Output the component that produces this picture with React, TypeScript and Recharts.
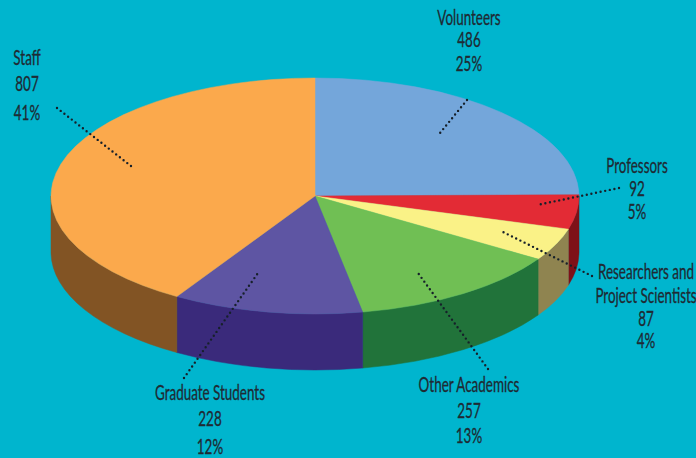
import { PieChart, Pie } from "recharts";

const categories = ["Volunteers", "Professors", "Researchers and\nProject Scientists", "Other Academics", "Graduate Students", "Staff"];
const counts = [486, 92, 87, 257, 228, 807];
const percents = ["25%", "5%", "4%", "13%", "12%", "41%"];
const topColors = ["#74A6DA", "#E32B35", "#FAF287", "#70BF54", "#5E55A3", "#FBA94C"];
const wallColors = ["#4A76A8", "#7E1118", "#8F8450", "#21733A", "#3A2A7B", "#825424"];

// callout placement: text centre x, baseline of each text line, leader line ends
const labelX = [469, 637, 646, 469, 210, 27];
const labelBaselines = [
  [25, 47, 71],
  [173, 196, 219],
  [279, 303, 326, 348],
  [392, 418, 443],
  [400, 426, 454],
  [65, 91, 120],
];
const leaders = [
  [467, 100, 440, 133],
  [619, 188, 537, 205],
  [592, 276, 501, 231],
  [488, 369, 418, 273],
  [184, 378, 258, 273],
  [57, 108, 131, 166],
];

const BG = "#00B5CE";
const INK = "#1F2A33";
const CX = 315;
const CY = 196;
const RX = 264;
const TILT = 118 / 264;
const DEPTH = 56;
const TEXT_SQUEEZE = 0.64; // no condensed font installed, so narrow the glyphs

const topData = categories.map((name, i) => ({ name, value: counts[i], fill: topColors[i] }));
const wallData = categories.map((name, i) => ({ name, value: counts[i], fill: wallColors[i] }));

function point(cx: number, cy: number, r: number, deg: number) {
  const a = (deg * Math.PI) / 180;
  return { x: cx + r * Math.cos(a), y: cy - r * TILT * Math.sin(a) };
}

function TopSlice(props: any) {
  const { cx, cy, outerRadius: r, startAngle, endAngle, fill } = props;
  const a = point(cx, cy, r, startAngle);
  const b = point(cx, cy, r, endAngle);
  const large = Math.abs(startAngle - endAngle) > 180 ? 1 : 0;
  const d = `M${cx},${cy} L${a.x},${a.y} A${r},${r * TILT} 0 ${large} 1 ${b.x},${b.y} Z`;
  return <path d={d} fill={fill} stroke={fill} strokeWidth={0.5} />;
}

// Only the front half of the rim is visible, so clamp to -180..0 degrees
function WallSlice(props: any) {
  const { cx, cy, outerRadius: r, startAngle, endAngle, fill } = props;
  const from = Math.min(startAngle, 0);
  const to = Math.max(endAngle, -180);
  if (from <= to) return <g />;
  const a = point(cx, cy, r, from);
  const b = point(cx, cy, r, to);
  const ry = r * TILT;
  const d =
    `M${a.x},${a.y} A${r},${ry} 0 0 1 ${b.x},${b.y} ` +
    `L${b.x},${b.y + DEPTH} A${r},${ry} 0 0 0 ${a.x},${a.y + DEPTH} Z`;
  return <path d={d} fill={fill} stroke={fill} strokeWidth={0.5} />;
}

function Callout(props: any) {
  const i: number = props.index;
  const lines = [...categories[i].split("\n"), String(counts[i]), percents[i]];
  const [x1, y1, x2, y2] = leaders[i];
  return (
    <g>
      <line
        x1={x1}
        y1={y1}
        x2={x2}
        y2={y2}
        stroke="#16202A"
        strokeWidth={2.4}
        strokeLinecap="round"
        strokeDasharray="0 4.7"
      />
      {lines.map((line, j) => (
        <text
          key={j}
          transform={`translate(${labelX[i]},${labelBaselines[i][j]}) scale(${TEXT_SQUEEZE},1)`}
          textAnchor="middle"
          fill={INK}
          stroke={INK}
          strokeWidth={0.3}
          fontSize={21}
          fontFamily="Lato, sans-serif"
        >
          {line}
        </text>
      ))}
    </g>
  );
}

export default function App() {
  return (
    <div style={{ position: "absolute", left: 0, top: 0, width: 696, height: 458, background: BG, overflow: "hidden" }}>
      <PieChart width={696} height={458} margin={{ top: 0, right: 0, bottom: 0, left: 0 }}>
        <Pie
          data={wallData}
          dataKey="value"
          cx={CX}
          cy={CY}
          outerRadius={RX}
          startAngle={90}
          endAngle={-270}
          shape={WallSlice}
          isAnimationActive={false}
        />
        <Pie
          data={topData}
          dataKey="value"
          cx={CX}
          cy={CY}
          outerRadius={RX}
          startAngle={90}
          endAngle={-270}
          shape={TopSlice}
          label={Callout}
          labelLine={false}
          isAnimationActive={false}
        />
      </PieChart>
    </div>
  );
}
